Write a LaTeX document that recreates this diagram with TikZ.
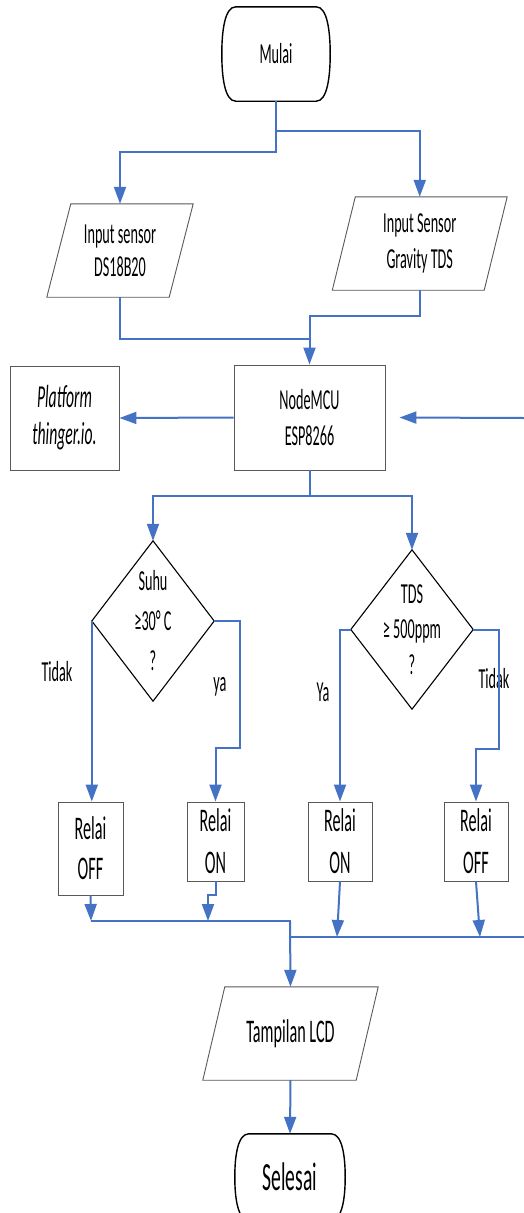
\documentclass[tikz,border=0pt]{standalone}
\usepackage{fontspec}
\setmainfont{Carlito}[FakeStretch=0.49]
\usetikzlibrary{arrows.meta}
\definecolor{lineblue}{HTML}{4472C4}
\definecolor{boxgrey}{HTML}{595959}
\begin{document}
\begin{tikzpicture}[x=1pt,y=-1pt,
  conn/.style={draw=lineblue,line width=2pt},
  arr/.style={conn,-{Triangle[length=17pt,width=12pt]}},
  box/.style={draw=boxgrey,line width=0.9pt,inner sep=0pt,align=center},
  ghost/.style={inner sep=0pt,align=center},
  dia/.style={draw=black,line width=1.1pt},
  termline/.style={draw=black,line width=1.4pt},
  fa/.style={font=\fontsize{29}{34}\selectfont},
  fb/.style={font=\fontsize{33}{40}\selectfont},
  fc/.style={font=\fontsize{40}{44}\selectfont}]
\useasboundingbox (0,0) rectangle (524,1213);
\clip (0,0) rectangle (524,1213);
\fill[white] (0,0) rectangle (524,1213);

% terminals
\node[ghost,fa,minimum width=108pt,minimum height=94pt] (mulai) at (276,54) {Mulai};
\draw[termline] ([xshift=14pt]mulai.north west) -- ([xshift=-14pt]mulai.north east)
  .. controls ([xshift=-3pt]mulai.north east) and ([yshift=-24pt]mulai.north east) .. (mulai.east)
  .. controls ([yshift=24pt]mulai.south east) and ([xshift=-3pt]mulai.south east) .. ([xshift=-14pt]mulai.south east)
  -- ([xshift=14pt]mulai.south west)
  .. controls ([xshift=3pt]mulai.south west) and ([yshift=24pt]mulai.south west) .. (mulai.west)
  .. controls ([yshift=-24pt]mulai.north west) and ([xshift=3pt]mulai.north west) .. ([xshift=14pt]mulai.north west) -- cycle;
\node[ghost,fc,minimum width=110pt,minimum height=86pt] (selesai) at (290,1177) {Selesai};
\draw[termline] ([xshift=14pt]selesai.north west) -- ([xshift=-14pt]selesai.north east)
  .. controls ([xshift=-3pt]selesai.north east) and ([yshift=-22pt]selesai.north east) .. (selesai.east)
  .. controls ([yshift=22pt]selesai.south east) and ([xshift=-3pt]selesai.south east) .. ([xshift=-14pt]selesai.south east)
  -- ([xshift=14pt]selesai.south west)
  .. controls ([xshift=3pt]selesai.south west) and ([yshift=22pt]selesai.south west) .. (selesai.west)
  .. controls ([yshift=-22pt]selesai.north west) and ([xshift=3pt]selesai.north west) .. ([xshift=14pt]selesai.north west) -- cycle;

% inputs
\node[ghost,font=\fontsize{29}{33}\selectfont,minimum width=122pt,minimum height=93pt] (in1) at (120,250.5) {Input sensor\\DS18B20};
\draw[box] ([xshift=-12pt]in1.south west) -- ([xshift=-12pt]in1.south east) -- ([xshift=12pt]in1.north east) -- ([xshift=12pt]in1.north west) -- cycle;
\node[ghost,font=\fontsize{29}{36}\selectfont,minimum width=151.5pt,minimum height=93pt] (in2) at (419.75,243.5) {Input Sensor\\Gravity TDS};
\draw[box] ([xshift=-11.5pt]in2.south west) -- ([xshift=-11.5pt]in2.south east) -- ([xshift=11.5pt]in2.north east) -- ([xshift=11.5pt]in2.north west) -- cycle;

% processing
\node[box,font=\fontsize{29}{36}\selectfont,minimum width=151pt,minimum height=105pt] (mcu) at (309.5,417.5) {NodeMCU\\ESP8266};
\node[box,font=\fontsize{32}{37}\selectfont\itshape,minimum width=109pt,minimum height=104pt] (plat) at (64.5,418) {Platform\\thinger.io.};

% decisions
\node[ghost,font=\fontsize{29}{40}\selectfont,minimum width=122pt,minimum height=160pt] (suhu) at (153,621) {Suhu\\≥30° C\\?};
\draw[dia] (suhu.north) -- (suhu.east) -- (suhu.south) -- (suhu.west) -- cycle;
\node[ghost,font=\fontsize{29}{35.5}\selectfont,minimum width=122pt,minimum height=159pt] (tds) at (412,629.5) {TDS\\≥ 500ppm\\?};
\draw[dia] (tds.north) -- (tds.east) -- (tds.south) -- (tds.west) -- cycle;

% relays
\node[box,fb,minimum width=65pt,minimum height=93pt] (r1) at (90.5,848.5) {Relai\\OFF};
\node[box,font=\fontsize{33}{42}\selectfont,minimum width=57pt,minimum height=79pt] (r2) at (215.5,841.5) {Relai\\ON};
\node[box,font=\fontsize{33}{42}\selectfont,minimum width=64pt,minimum height=79pt] (r3) at (340,841.5) {Relai\\ON};
\node[box,font=\fontsize{33}{42}\selectfont,minimum width=64pt,minimum height=79pt] (r4) at (476,841.5) {Relai\\OFF};

% output
\node[ghost,fb,minimum width=153pt,minimum height=93pt] (lcd) at (290.5,1033.5) {Tampilan LCD};
\draw[box] ([xshift=-11pt]lcd.south west) -- ([xshift=-11pt]lcd.south east) -- ([xshift=11pt]lcd.north east) -- ([xshift=11pt]lcd.north west) -- cycle;

% labels
\node[fa] (t1) at (57,672) {Tidak};
\node[fa] (t2) at (220,687) {ya};
\node[fa] (t3) at (323,692) {Ya};
\node[fa] (t4) at (494,679) {Tidak};

% coordinates
\coordinate (j1) at (310,339);
\coordinate (re) at (524,418);
\coordinate (b1) at (91,921);
\coordinate (b2) at (208,921);
\coordinate (b3) at (290,921);
\coordinate (b4) at (290,937);
\coordinate (b5) at (337,937);
\coordinate (b6) at (480,937);
\coordinate (b7) at (524,937);

% connectors
\draw[arr] (mulai.south) -- ++(0,51) -| (in1.north);
\draw[arr] ([yshift=-30pt]mulai.south) -| (in2.north);
\draw[conn] (in1.south) |- (j1);
\draw[arr] (in2.south) -- ++(0,26) -| (mcu.north);
\draw[arr] (mcu.west) -- (plat.east);
\draw[arr] (re) -- ([xshift=14pt]mcu.east);
\draw[conn] (mcu.south) -- ++(0,26) coordinate (j2);
\draw[arr] (j2) -| (suhu.north);
\draw[arr] (j2) -| (tds.north);
\draw[arr] (suhu.west) -- (suhu.west |- r1.north);
\draw[arr] (suhu.east) -| ++(26,127) -| (r2.north);
\draw[arr] (tds.west) -| (r3.north);
\draw[arr] (tds.east) -| ++(26,119) -| (r4.north);
\draw[arr] (r1.south) -- (b1);
\draw[arr] (r2.south) -- ++(0,14) -| (b2);
\draw[arr] (r3.south) -- (b5);
\draw[arr] (r4.south) -- (b6);
\draw[conn,line width=2.6pt] (b1) -- (b3) -- (b4) -- (b7);
\draw[arr] (b3) -- (lcd.north);
\draw[arr] (lcd.south) -- (selesai.north);
\end{tikzpicture}
\end{document}
